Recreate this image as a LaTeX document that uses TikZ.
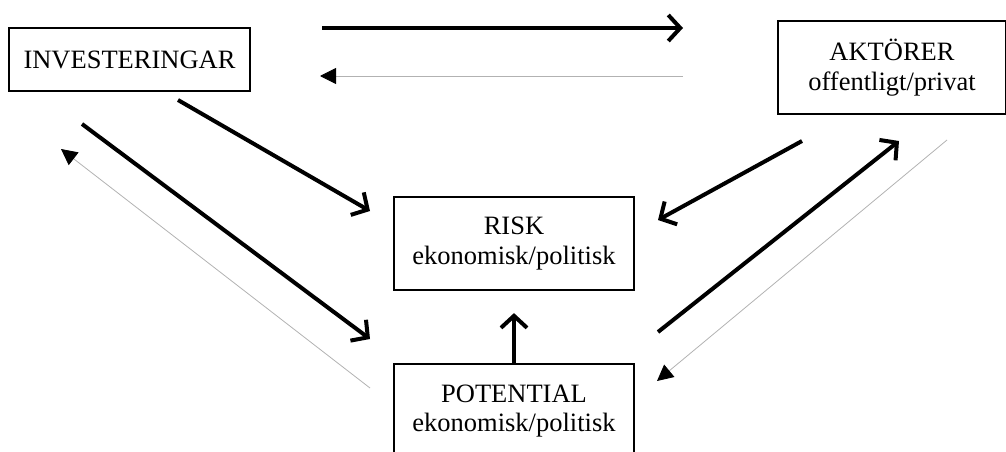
\documentclass[tikz,border=0pt]{standalone}
\usepackage{fontspec}
\setmainfont{Liberation Serif}
\usetikzlibrary{arrows.meta}
\begin{document}
\begin{tikzpicture}[x=1pt,y=-1pt,
  box/.style={draw=black,line width=2.2pt,rectangle,inner sep=0pt,align=center,
    font=\fontsize{26.5}{29.5}\selectfont},
  thick arrow/.style={line width=4pt,-{Straight Barb[length=12pt,width=26pt,line width=4pt]}},
  thin arrow/.style={line width=0.8pt,draw=black!30,-{Triangle[length=16pt,width=16pt,fill=black,color=black]}}]
\useasboundingbox (0,0) rectangle (1006,452);
\clip (0,0) rectangle (1006,452);
\node[box,minimum width=241pt,minimum height=63pt] (inv) at (129.5,59.5) {INVESTERINGAR};
\node[box,minimum width=228pt,minimum height=93pt] (akt) at (892,67.5) {AKTÖRER\\offentligt/privat};
\node[box,minimum width=240pt,minimum height=93pt] (risk) at (514,243.5) {RISK\\ekonomisk/politisk};
\node[box,minimum width=240pt,minimum height=94pt] (pot) at (514,411) {POTENTIAL\\ekonomisk/politisk};
% coordinates for free arrow ends
\coordinate (t1s) at (322,28);   \coordinate (t1e) at (683,28);
\coordinate (t2s) at (683,76);   \coordinate (t2e) at (320,76);
\coordinate (ir1) at (178,100);  \coordinate (ir2) at (370,211);
\coordinate (ip1) at (82,124);   \coordinate (ip2) at (370,339);
\coordinate (pi1) at (370,388);  \coordinate (pi2) at (61,149);
\coordinate (ar1) at (802,141);  \coordinate (ar2) at (658,220);
\coordinate (pa1) at (658,332);  \coordinate (pa2) at (899,141);
\coordinate (ap1) at (947,140);  \coordinate (ap2) at (657,381);
\draw[thick arrow] (t1s) -- (t1e);
\draw[thin arrow] (t2s) -- (t2e);
\draw[thick arrow] (ir1) -- (ir2);
\draw[thick arrow] (ip1) -- (ip2);
\draw[thin arrow] (pi1) -- (pi2);
\draw[thick arrow] (ar1) -- (ar2);
\draw[thick arrow] (pa1) -- (pa2);
\draw[thin arrow] (ap1) -- (ap2);
\draw[thick arrow] (pot.north) -- ([yshift=-22pt]risk.south);
\end{tikzpicture}
\end{document}
